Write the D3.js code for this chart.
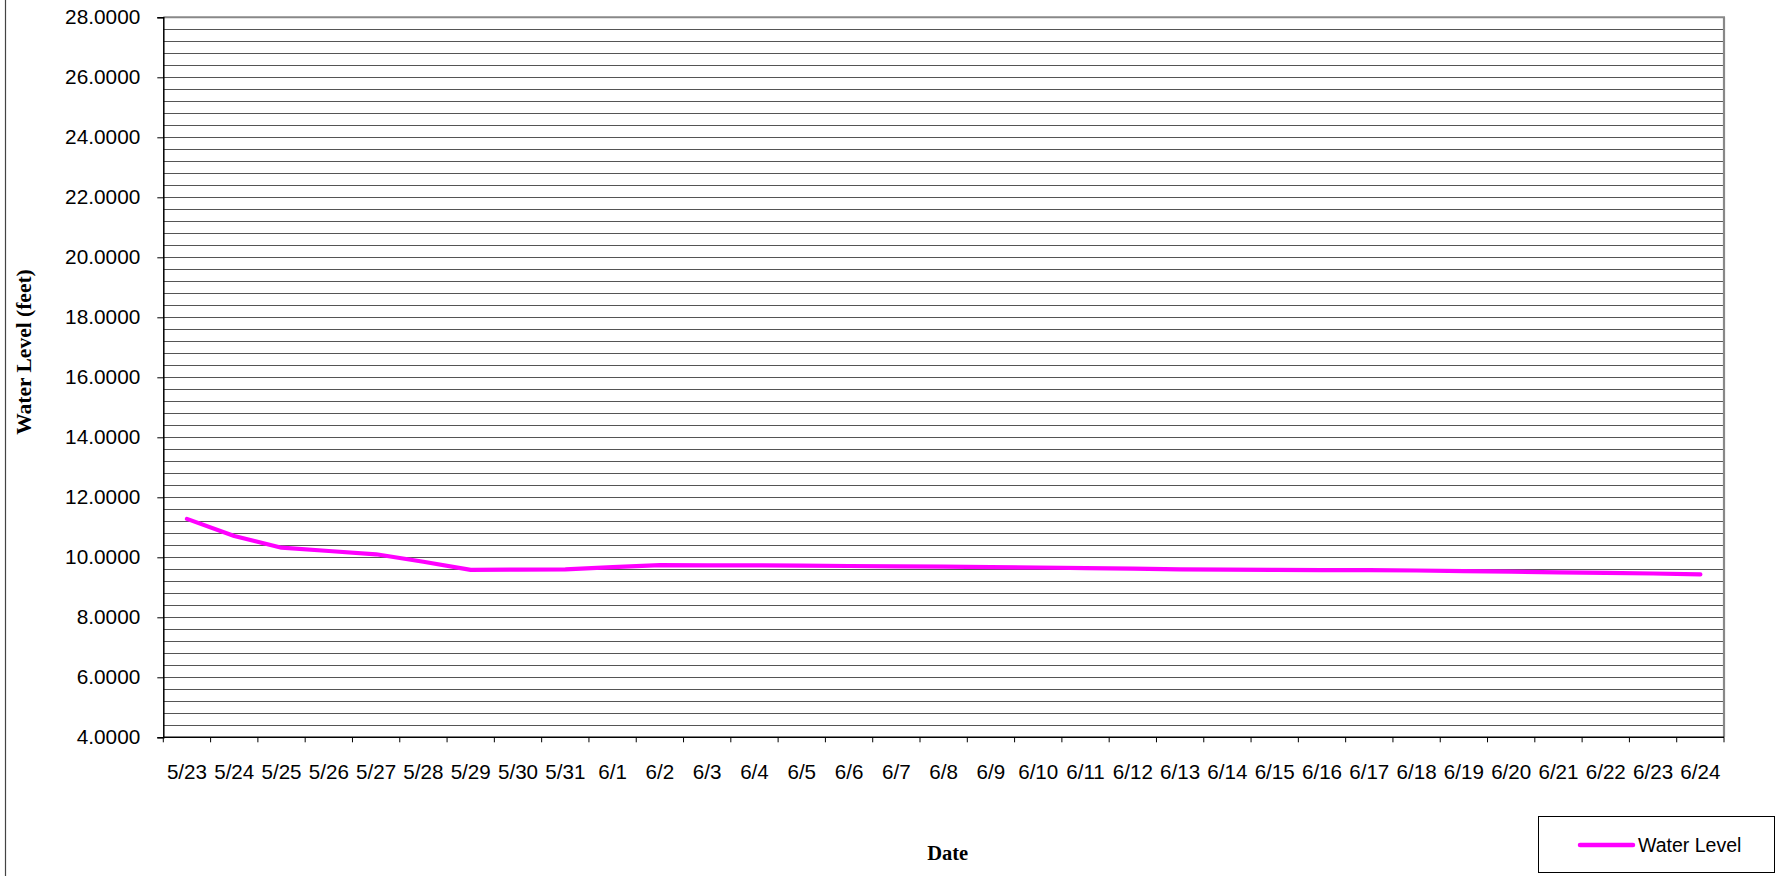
<!DOCTYPE html>
<html>
<head>
<meta charset="utf-8">
<script src="https://cdn.jsdelivr.net/npm/d3@7"></script>
<style>
  html, body { margin: 0; padding: 0; background: #fff; }
  svg { display: block; }
</style>
</head>
<body>
<svg id="chart" width="1779" height="876"></svg>
<script>
const categories = ["5/23","5/24","5/25","5/26","5/27","5/28","5/29","5/30","5/31","6/1",
  "6/2","6/3","6/4","6/5","6/6","6/7","6/8","6/9","6/10","6/11","6/12","6/13","6/14",
  "6/15","6/16","6/17","6/18","6/19","6/20","6/21","6/22","6/23","6/24"];
const waterLevel = [11.28, 10.71, 10.32, 10.21, 10.10, 9.85, 9.58, 9.59, 9.60, 9.67,
  9.74, 9.73, 9.73, 9.72, 9.71, 9.70, 9.69, 9.67, 9.66, 9.64, 9.62, 9.60, 9.59,
  9.58, 9.57, 9.57, 9.56, 9.54, 9.52, 9.50, 9.48, 9.46, 9.43];
const yTickValues = [4, 6, 8, 10, 12, 14, 16, 18, 20, 22, 24, 26, 28];
const yDomain = [4, 28];
const gridStep = 0.4;
const seriesName = "Water Level";
const xTitle = "Date";
const yTitle = "Water Level (feet)";

const svg = d3.select("#chart");
const L = 163.3, R = 1724, T = 17.3, B = 737.3;

const x = d3.scaleBand().domain(categories).range([L, R]).padding(0);
const y = d3.scaleLinear().domain(yDomain).range([B, T]);

// outer chart border (left edge visible)
svg.append("line").attr("x1", 5.5).attr("x2", 5.5).attr("y1", 0).attr("y2", 876)
  .attr("stroke", "#444").attr("stroke-width", 1.2);

// gridlines
const nGrid = Math.round((yDomain[1] - yDomain[0]) / gridStep);
const gridVals = d3.range(1, nGrid).map(i => yDomain[0] + i * gridStep);
svg.append("g").selectAll("line").data(gridVals).join("line")
  .attr("x1", L).attr("x2", R)
  .attr("y1", d => Math.round(y(d)) + 0.5).attr("y2", d => Math.round(y(d)) + 0.5)
  .attr("stroke", "#555").attr("stroke-width", 1);

// top and right frame
svg.append("line").attr("x1", L).attr("x2", R + 1).attr("y1", T).attr("y2", T)
  .attr("stroke", "#888").attr("stroke-width", 2);
svg.append("line").attr("x1", R).attr("x2", R).attr("y1", T).attr("y2", B)
  .attr("stroke", "#888").attr("stroke-width", 2.2);

// y axis
const yAxis = d3.axisLeft(y).tickValues(yTickValues).tickSize(6).tickPadding(17)
  .tickFormat(d3.format(".4f"));
const gy = svg.append("g").attr("transform", `translate(${L},0)`).call(yAxis);
gy.select(".domain").attr("stroke", "#000").attr("stroke-width", 1.5);
gy.selectAll(".tick line").attr("stroke", "#000");
gy.selectAll("text").attr("font-family", "Liberation Sans, Arial, sans-serif")
  .attr("font-size", "20.8px").attr("fill", "#000");

// x axis: ticks at category boundaries
const bw = x.bandwidth();
const gx = svg.append("g");
gx.append("line").attr("x1", L).attr("x2", R).attr("y1", B).attr("y2", B)
  .attr("stroke", "#000").attr("stroke-width", 1.5);
gx.selectAll("line.tk").data(d3.range(categories.length + 1)).join("line")
  .attr("class", "tk")
  .attr("x1", i => L + i * bw).attr("x2", i => L + i * bw)
  .attr("y1", B).attr("y2", B + 5).attr("stroke", "#000");
gx.selectAll("text").data(categories).join("text")
  .attr("x", d => x(d) + bw / 2).attr("y", 779)
  .attr("text-anchor", "middle")
  .attr("font-family", "Liberation Sans, Arial, sans-serif")
  .attr("font-size", "20.6px").attr("fill", "#000")
  .text(d => d);

// line
const line = d3.line().x((d, i) => x(categories[i]) + bw / 2).y(d => y(d));
svg.append("path").datum(waterLevel).attr("d", line)
  .attr("fill", "none").attr("stroke", "#FF00FF").attr("stroke-width", 4.2)
  .attr("stroke-linejoin", "round").attr("stroke-linecap", "round");

// axis titles
svg.append("text").attr("x", (L + R) / 2 + 4).attr("y", 860)
  .attr("text-anchor", "middle")
  .attr("font-family", "Liberation Serif, Times New Roman, serif")
  .attr("font-weight", "bold").attr("font-size", "20.5px").attr("fill", "#000")
  .text(xTitle);
svg.append("text")
  .attr("transform", `translate(31, 352) rotate(-90)`)
  .attr("text-anchor", "middle")
  .attr("font-family", "Liberation Serif, Times New Roman, serif")
  .attr("font-weight", "bold").attr("font-size", "21.5px").attr("fill", "#000")
  .text(yTitle);

// legend
const lg = svg.append("g");
lg.append("rect").attr("x", 1538.5).attr("y", 816.5).attr("width", 236).attr("height", 56)
  .attr("fill", "#fff").attr("stroke", "#000").attr("stroke-width", 1);
lg.append("line").attr("x1", 1580).attr("x2", 1633).attr("y1", 845).attr("y2", 845)
  .attr("stroke", "#FF00FF").attr("stroke-width", 4.5).attr("stroke-linecap", "round");
lg.append("text").attr("x", 1638).attr("y", 852)
  .attr("font-family", "Liberation Sans, Arial, sans-serif")
  .attr("font-size", "19.5px").attr("fill", "#000")
  .text(seriesName);
</script>
</body>
</html>
